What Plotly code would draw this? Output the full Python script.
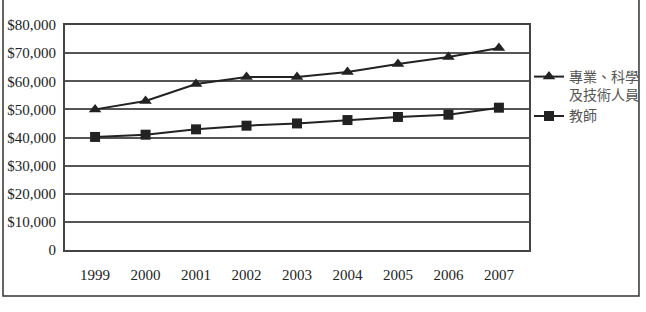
import plotly.graph_objects as go

years = ["1999", "2000", "2001", "2002", "2003", "2004", "2005", "2006", "2007"]
prof = [50000, 53000, 59000, 61500, 61500, 63300, 66100, 68600, 71800]
teacher = [40200, 41000, 42900, 44200, 45000, 46200, 47300, 48100, 50600]
y_ticks = [0, 10000, 20000, 30000, 40000, 50000, 60000, 70000, 80000]
y_labels = ["0", "$10,000", "$20,000", "$30,000", "$40,000", "$50,000", "$60,000", "$70,000", "$80,000"]
names = ["專業、科學<br>及技術人員", "教師"]

fig = go.Figure()
fig.add_trace(go.Scatter(x=years, y=prof, mode="lines+markers", name=names[0],
                         line=dict(color="#222", width=2),
                         marker=dict(symbol="triangle-up", size=11, color="#222")))
fig.add_trace(go.Scatter(x=years, y=teacher, mode="lines+markers", name=names[1],
                         line=dict(color="#222", width=2),
                         marker=dict(symbol="square", size=10, color="#222")))

fig.update_layout(
    width=646, height=312,
    margin=dict(l=65, r=117, t=25, b=62, autoexpand=False),
    paper_bgcolor="white", plot_bgcolor="white",
    font=dict(family="Liberation Serif", size=15, color="#222"),
    showlegend=True,
    legend=dict(x=1.0, xanchor="left", y=0.84, yanchor="top",
                valign="top", bgcolor="rgba(0,0,0,0)",
                font=dict(family="Noto Sans CJK TC", size=14, color="#555"),
                itemwidth=30, tracegroupgap=4),
    xaxis=dict(type="category", showgrid=False, showline=True, linecolor="#444",
               linewidth=2, mirror=True, ticks="", ticklabelstandoff=10,
               automargin=False, tickfont=dict(size=15, color="#222")),
    yaxis=dict(range=[0, 80000], tickvals=y_ticks, ticktext=y_labels,
               showgrid=True, gridcolor="#555", gridwidth=1.5,
               showline=True, linecolor="#444", linewidth=2, mirror=True,
               ticks="", zeroline=False, ticklabelstandoff=4, automargin=False,
               tickfont=dict(size=15, color="#222")),
)
fig.add_shape(type="rect", xref="paper", yref="paper",
              x0=-0.1336, x1=1.237, y0=-0.2044, y1=1.13,
              line=dict(color="#333", width=1.5), fillcolor="rgba(0,0,0,0)", layer="below")
fig.write_html("out.html")
